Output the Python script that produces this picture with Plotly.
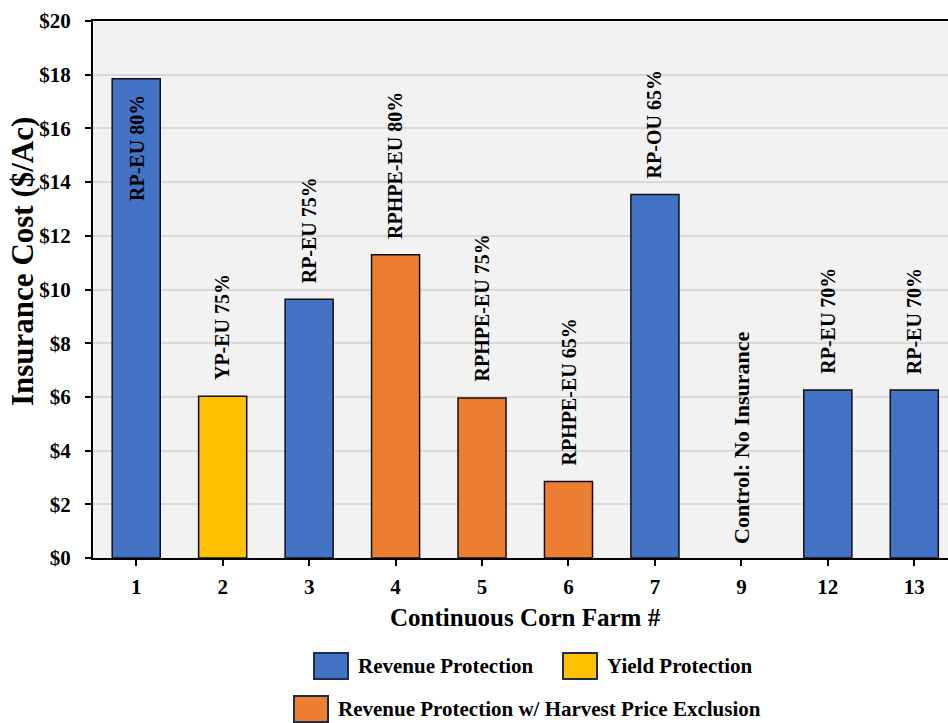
import plotly.graph_objects as go

# Continuous corn farms and their crop insurance premium ($/acre)
farms = ["1", "2", "3", "4", "5", "6", "7", "9", "12", "13"]
cost = [17.85, 6.02, 9.64, 11.29, 5.96, 2.85, 13.54, 0.0, 6.26, 6.26]
policy = ["RP-EU 80%", "YP-EU 75%", "RP-EU 75%", "RPHPE-EU 80%", "RPHPE-EU 75%",
          "RPHPE-EU 65%", "RP-OU 65%", "Control: No Insurance", "RP-EU 70%", "RP-EU 70%"]
product = ["Revenue Protection", "Yield Protection", "Revenue Protection",
           "Revenue Protection w/ Harvest Price Exclusion",
           "Revenue Protection w/ Harvest Price Exclusion",
           "Revenue Protection w/ Harvest Price Exclusion",
           "Revenue Protection", None, "Revenue Protection", "Revenue Protection"]

products = ["Revenue Protection", "Yield Protection",
            "Revenue Protection w/ Harvest Price Exclusion"]
colors = ["#4472C4", "#FFC000", "#ED7D31"]

y_ticks = list(range(0, 21, 2))
y_tick_text = [f"${v}" for v in y_ticks]

FONT = "Liberation Serif"
W, H = 948, 723
L, R, T, B = 93, 0, 21, 165
plot_w, plot_h = W - L - R, H - T - B


def px_x(px):
    return (px - L) / plot_w


def px_y(py):
    return (H - B - py) / plot_h


fig = go.Figure()
for name, col in zip(products, colors):
    xs = [f for f, p in zip(farms, product) if p == name]
    ys = [c for c, p in zip(cost, product) if p == name]
    fig.add_trace(go.Bar(
        x=xs, y=ys, name=name, width=0.556,
        marker=dict(color=col, line=dict(color="#111111", width=1.5)),
        showlegend=False,
    ))

# Policy labels written vertically above each bar (inside the tallest one);
# on a category axis annotations are positioned by category index
for i, (c, lab) in enumerate(zip(cost, policy)):
    inside = c > 16
    fig.add_annotation(
        x=i, y=c, text=f"<b>{lab}</b>", textangle=-90, showarrow=False,
        xanchor="center", yanchor="top" if inside else "bottom",
        yshift=-14 if inside else (12 if c == 0 else 14),
        font=dict(family=FONT, size=22 if c == 0 else 20, color="black"),
    )

# Axis titles
fig.add_annotation(
    xref="paper", yref="paper", x=px_x(525), y=px_y(617),
    text="<b>Continuous Corn Farm #</b>", showarrow=False,
    xanchor="center", yanchor="middle",
    font=dict(family=FONT, size=25, color="black"),
)
fig.add_annotation(
    xref="paper", yref="paper", x=px_x(22), y=px_y(262),
    text="<b>Insurance Cost ($/Ac)</b>", textangle=-90, showarrow=False,
    xanchor="center", yanchor="middle",
    font=dict(family=FONT, size=31, color="black"),
)

# Legend drawn as swatches + labels in two rows
legend_items = [
    (products[0], colors[0], 314, 666),
    (products[1], colors[1], 563, 666),
    (products[2], colors[2], 294, 709),
]
for name, col, x0, yc in legend_items:
    fig.add_shape(
        type="rect", xref="paper", yref="paper",
        x0=px_x(x0), x1=px_x(x0 + 34), y0=px_y(yc + 13), y1=px_y(yc - 13),
        fillcolor=col, line=dict(color="#1F2D4D", width=2),
    )
    fig.add_annotation(
        xref="paper", yref="paper", x=px_x(x0 + 42), y=px_y(yc),
        text=f"<b>{name}</b>", showarrow=False,
        xanchor="left", yanchor="middle",
        font=dict(family=FONT, size=21, color="black"),
    )

fig.update_layout(
    width=W, height=H,
    margin=dict(l=L, r=R, t=T, b=B),
    paper_bgcolor="white", plot_bgcolor="#F2F2F2",
    barmode="overlay",
    font=dict(family=FONT, color="black"),
)
fig.update_xaxes(
    type="category", categoryorder="array", categoryarray=farms,
    range=[-0.5, 9.39],
    showline=True, linecolor="black", linewidth=2, mirror=True,
    ticks="outside", ticklen=6, tickcolor="black", tickwidth=1.5,
    ticklabelstandoff=3,
    tickfont=dict(family=FONT, size=21, color="black", weight="bold"),
    showgrid=False,
)
fig.update_yaxes(
    range=[0, 20], tickvals=y_ticks, ticktext=y_tick_text,
    showline=True, linecolor="black", linewidth=2,
    ticks="outside", ticklen=6, tickcolor="black", tickwidth=1.5,
    ticklabelstandoff=10,
    tickfont=dict(family=FONT, size=21, color="black", weight="bold"),
    showgrid=True, gridcolor="#D9D9D9", gridwidth=1.5,
    zeroline=False,
)

fig.write_html("out.html")
